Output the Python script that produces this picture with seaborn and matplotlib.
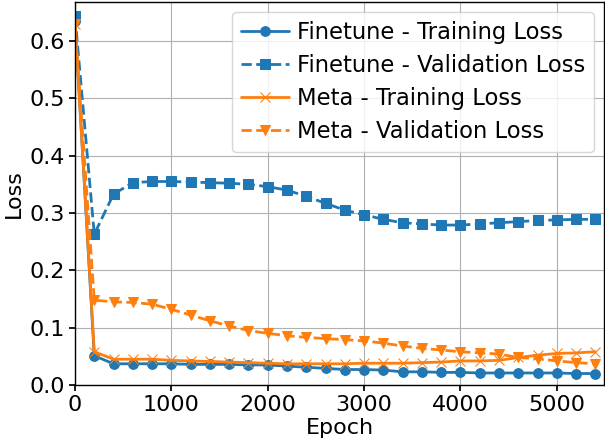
import matplotlib
matplotlib.use("Agg")
import matplotlib.pyplot as plt
import seaborn as sns
import pandas as pd

sns.set_theme(style="whitegrid")
plt.rcParams.update({
    "axes.edgecolor": "black",
    "axes.linewidth": 1.0,
    "axes.labelcolor": "black",
    "xtick.color": "black",
    "ytick.color": "black",
    "text.color": "black",
    "grid.color": "#b0b0b0",
    "grid.linewidth": 0.8,
    "xtick.bottom": True,
    "ytick.left": True,
    "font.size": 16,
})
plt.rcParams["font.family"] = ["DejaVu Sans"]

epochs = list(range(0, 5401, 200))

finetune_train = [0.635, 0.051, 0.037, 0.037, 0.037, 0.037, 0.036, 0.036, 0.036, 0.035,
                  0.035, 0.033, 0.031, 0.029, 0.027, 0.027, 0.026, 0.023, 0.023, 0.022,
                  0.022, 0.021, 0.021, 0.021, 0.021, 0.021, 0.020, 0.020]
finetune_val = [0.643, 0.263, 0.333, 0.353, 0.355, 0.355, 0.354, 0.353, 0.352, 0.350,
                0.346, 0.340, 0.329, 0.317, 0.305, 0.297, 0.289, 0.283, 0.281, 0.279,
                0.279, 0.281, 0.283, 0.285, 0.287, 0.288, 0.289, 0.289]
meta_train = [0.630, 0.058, 0.045, 0.045, 0.045, 0.043, 0.042, 0.041, 0.040, 0.039,
              0.038, 0.037, 0.037, 0.037, 0.037, 0.038, 0.038, 0.038, 0.039, 0.040,
              0.042, 0.042, 0.043, 0.048, 0.052, 0.055, 0.056, 0.058]
meta_val = [0.630, 0.148, 0.145, 0.144, 0.141, 0.132, 0.122, 0.112, 0.103, 0.095,
            0.090, 0.086, 0.083, 0.081, 0.079, 0.077, 0.073, 0.068, 0.064, 0.061,
            0.058, 0.056, 0.054, 0.048, 0.046, 0.042, 0.039, 0.037]

series = [
    ("Finetune - Training Loss", finetune_train, "tab:blue", "o", "-"),
    ("Finetune - Validation Loss", finetune_val, "tab:blue", "s", "--"),
    ("Meta - Training Loss", meta_train, "tab:orange", "x", "-"),
    ("Meta - Validation Loss", meta_val, "tab:orange", "v", "--"),
]

fig, ax = plt.subplots(figsize=(6.05, 4.42), dpi=100)
fig.subplots_adjust(left=75 / 605, right=604 / 605, bottom=1 - 385 / 442, top=1 - 1.5 / 442)

for label, vals, color, marker, ls in series:
    df = pd.DataFrame({"Epoch": epochs, "Loss": vals})
    sns.lineplot(data=df, x="Epoch", y="Loss", ax=ax, color=color, marker=marker,
                 linestyle=ls, linewidth=2, markersize=7, markeredgecolor=color,
                 label=label)

ax.set_xlim(0, 5490)
ax.set_ylim(0, 0.669)
ax.set_xlabel("Epoch", fontsize=16, labelpad=2)
ax.set_ylabel("Loss", fontsize=16, labelpad=4)
ax.tick_params(labelsize=16, length=4, color="black", pad=3)
ax.legend(loc="upper right", fontsize=16.3, handlelength=2.1, handletextpad=0.35,
          borderpad=0.4, borderaxespad=0.45, labelspacing=0.45)

plt.savefig("out.png", dpi=100)
